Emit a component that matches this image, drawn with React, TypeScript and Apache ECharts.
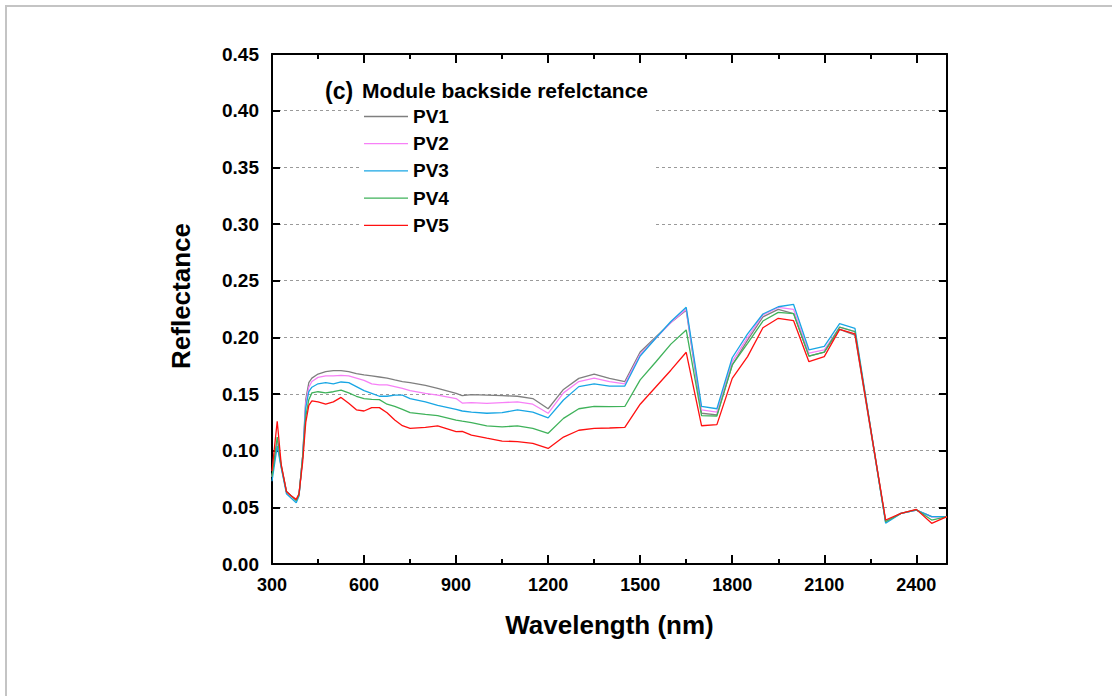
import React, { useEffect, useRef } from "react";
import * as echarts from "echarts";

// Wavelength sampling points (nm)
const wavelengths = [
  300, 317, 330, 347, 363, 379, 388, 400, 410, 420, 430, 450, 475, 500, 525, 550, 575, 600, 625, 650,
  675, 700, 725, 750, 800, 840, 900, 920, 950, 1000, 1050, 1100, 1150, 1200, 1250, 1300, 1350, 1400,
  1450, 1500, 1550, 1600, 1650, 1700, 1750, 1800, 1850, 1900, 1950, 2000, 2050, 2100, 2150, 2200,
  2300, 2350, 2400, 2450, 2500,
];

const pv1 = [
  0.077, 0.108, 0.086, 0.064, 0.06, 0.056, 0.061, 0.095, 0.145, 0.16, 0.164, 0.1676, 0.1697, 0.1706,
  0.1706, 0.1697, 0.168, 0.1668, 0.166, 0.165, 0.164, 0.1624, 0.161, 0.16, 0.1576, 0.155, 0.1506,
  0.1485, 0.1494, 0.149, 0.1485, 0.148, 0.146, 0.137, 0.154, 0.1638, 0.1676, 0.1638, 0.161, 0.187,
  0.2, 0.213, 0.224, 0.133, 0.1315, 0.1756, 0.1976, 0.218, 0.2247, 0.221, 0.1835, 0.187, 0.207,
  0.202, 0.0374, 0.0447, 0.0476, 0.0418, 0.0418,
];

const pv2 = [
  0.077, 0.108, 0.086, 0.064, 0.06, 0.056, 0.061, 0.095, 0.142, 0.156, 0.161, 0.1647, 0.166, 0.166,
  0.1665, 0.166, 0.164, 0.162, 0.159, 0.158, 0.158, 0.1565, 0.155, 0.153, 0.1506, 0.149, 0.146,
  0.142, 0.1424, 0.1418, 0.1424, 0.143, 0.141, 0.133, 0.151, 0.161, 0.164, 0.161, 0.159, 0.185,
  0.199, 0.213, 0.2247, 0.136, 0.134, 0.1785, 0.2, 0.2197, 0.2265, 0.2247, 0.186, 0.189, 0.209,
  0.205, 0.0374, 0.0447, 0.0476, 0.0415, 0.0418,
];

const pv3 = [
  0.073, 0.104, 0.085, 0.062, 0.058, 0.054, 0.06, 0.095, 0.138, 0.152, 0.156, 0.159, 0.16, 0.159,
  0.1606, 0.16, 0.1565, 0.153, 0.1506, 0.148, 0.148, 0.149, 0.149, 0.146, 0.143, 0.14, 0.1365,
  0.135, 0.134, 0.133, 0.1335, 0.136, 0.134, 0.129, 0.1447, 0.1565, 0.159, 0.157, 0.157, 0.1835,
  0.199, 0.214, 0.2265, 0.139, 0.137, 0.182, 0.203, 0.2206, 0.227, 0.229, 0.189, 0.192, 0.212,
  0.208, 0.036, 0.0447, 0.0476, 0.0418, 0.0418,
];

const pv4 = [
  0.077, 0.112, 0.087, 0.064, 0.06, 0.056, 0.061, 0.095, 0.13, 0.145, 0.151, 0.152, 0.151, 0.152,
  0.1535, 0.151, 0.148, 0.146, 0.1453, 0.145, 0.141, 0.139, 0.1365, 0.1335, 0.132, 0.131, 0.127,
  0.126, 0.1247, 0.1218, 0.121, 0.1218, 0.1197, 0.1153, 0.1285, 0.137, 0.139, 0.1388, 0.139,
  0.1624, 0.178, 0.194, 0.2065, 0.131, 0.1306, 0.1756, 0.1947, 0.2144, 0.222, 0.221, 0.1835, 0.187,
  0.209, 0.205, 0.0374, 0.0447, 0.048, 0.0388, 0.0418,
];

const pv5 = [
  0.082, 0.126, 0.088, 0.064, 0.06, 0.057, 0.062, 0.09, 0.125, 0.14, 0.144, 0.143, 0.141, 0.143,
  0.147, 0.1418, 0.136, 0.135, 0.138, 0.138, 0.1335, 0.127, 0.122, 0.1197, 0.1206, 0.1218, 0.1168,
  0.117, 0.1138, 0.111, 0.1085, 0.108, 0.1065, 0.102, 0.112, 0.118, 0.1197, 0.12, 0.1206, 0.141,
  0.156, 0.171, 0.1868, 0.122, 0.123, 0.1638, 0.183, 0.2085, 0.2168, 0.2147, 0.1785, 0.183, 0.207,
  0.203, 0.0388, 0.0447, 0.0482, 0.0359, 0.0418,
];

const seriesNames = ["PV1", "PV2", "PV3", "PV4", "PV5"];
const seriesValues = [pv1, pv2, pv3, pv4, pv5];
const seriesColors = ["#7f7f7f", "#f780f7", "#18a6e4", "#3fb25a", "#ff1010"];

const FONT = "'Liberation Sans', Arial, sans-serif";

export default function App() {
  const ref = useRef<HTMLDivElement>(null);

  useEffect(() => {
    if (!ref.current) return;
    const chart = echarts.init(ref.current, undefined, { renderer: "svg" });

    const xCommon = {
      type: "value" as const,
      min: 300,
      max: 2500,
      interval: 300,
      axisLine: { show: true, onZero: false, lineStyle: { color: "#000", width: 2 } },
      axisTick: { show: true, inside: true, length: 9, lineStyle: { color: "#000", width: 2 } },
      minorTick: { show: true, splitNumber: 2, length: 5, lineStyle: { color: "#000", width: 2 } },
      splitLine: { show: false },
    };

    const yCommon = {
      type: "value" as const,
      min: 0,
      max: 0.45,
      interval: 0.05,
      axisLine: { show: true, onZero: false, lineStyle: { color: "#000", width: 2 } },
      axisTick: { show: true, inside: true, length: 8, lineStyle: { color: "#000", width: 2 } },
    };

    chart.setOption({
      animation: false,
      backgroundColor: "#fff",
      textStyle: { fontFamily: FONT },
      grid: { left: 272, top: 54, right: 165, bottom: 132, containLabel: false },
      title: {
        text: "{a|(c)}{b|Module backside refelctance}",
        left: 320,
        top: 74,
        z: 20,
        textStyle: {
          rich: {
            a: { fontFamily: FONT, fontWeight: "bold", fontSize: 23, color: "#000" },
            b: {
              fontFamily: FONT,
              fontWeight: "bold",
              fontSize: 21,
              color: "#000",
              padding: [0, 0, 0, 9],
            },
          },
        },
      },
      legend: {
        orient: "vertical",
        left: 359,
        top: 102,
        z: 20,
        itemWidth: 44,
        itemHeight: 14,
        itemGap: 8.2,
        data: seriesNames.map((n, i) => ({
          name: n,
          icon: "path://M0,0 L44,0 L44,1.3 L0,1.3 Z",
          itemStyle: { color: seriesColors[i] },
        })),
        textStyle: { fontFamily: FONT, fontWeight: "bold", fontSize: 19, color: "#000" },
      },
      graphic: [
        {
          type: "rect",
          z: 5,
          shape: { x: 360, y: 72, width: 296, height: 168 },
          style: { fill: "#fff" },
        },
        {
          type: "rect",
          z: 30,
          shape: { x: 6, y: 6, width: 1200, height: 800 },
          style: { fill: "none", stroke: "#c4c4c4", lineWidth: 2 },
        },
      ],
      xAxis: [
        {
          ...xCommon,
          position: "bottom",
          name: "Wavelength (nm)",
          nameLocation: "middle",
          nameGap: 48,
          nameTextStyle: { fontFamily: FONT, fontWeight: "bold", fontSize: 26, color: "#000" },
          axisLabel: {
            show: true,
            margin: 12,
            showMaxLabel: false,
            fontFamily: FONT,
            fontWeight: "bold",
            fontSize: 18,
            color: "#000",
            formatter: (v: number) => String(v),
          },
        },
        {
          ...xCommon,
          position: "top",
          axisLabel: { show: false },
        },
      ],
      yAxis: [
        {
          ...yCommon,
          position: "left",
          name: "Reflectance",
          nameLocation: "middle",
          nameGap: 78,
          nameTextStyle: {
            fontFamily: FONT,
            fontWeight: "bold",
            fontSize: 26,
            color: "#000",
            padding: [0, 0, 0, 26],
          },
          axisLabel: {
            show: true,
            margin: 13,
            fontFamily: FONT,
            fontWeight: "bold",
            fontSize: 19,
            color: "#000",
            formatter: (v: number) => v.toFixed(2),
          },
          splitLine: { show: true, lineStyle: { color: "#9a9a9a", type: [3, 3], width: 1 } },
        },
        {
          ...yCommon,
          position: "right",
          axisLabel: { show: false },
          splitLine: { show: false },
        },
      ],
      series: seriesNames.map((name, i) => ({
        name,
        type: "line",
        xAxisIndex: 0,
        yAxisIndex: 0,
        symbol: "none",
        smooth: false,
        z: 3,
        lineStyle: { color: seriesColors[i], width: 1.3 },
        itemStyle: { color: seriesColors[i] },
        data: wavelengths.map((w, k) => [w, seriesValues[i][k]]),
      })),
    });

    return () => chart.dispose();
  }, []);

  return (
    <div
      ref={ref}
      style={{ position: "fixed", left: 0, top: 0, width: 1112, height: 696, background: "#fff" }}
    />
  );
}
